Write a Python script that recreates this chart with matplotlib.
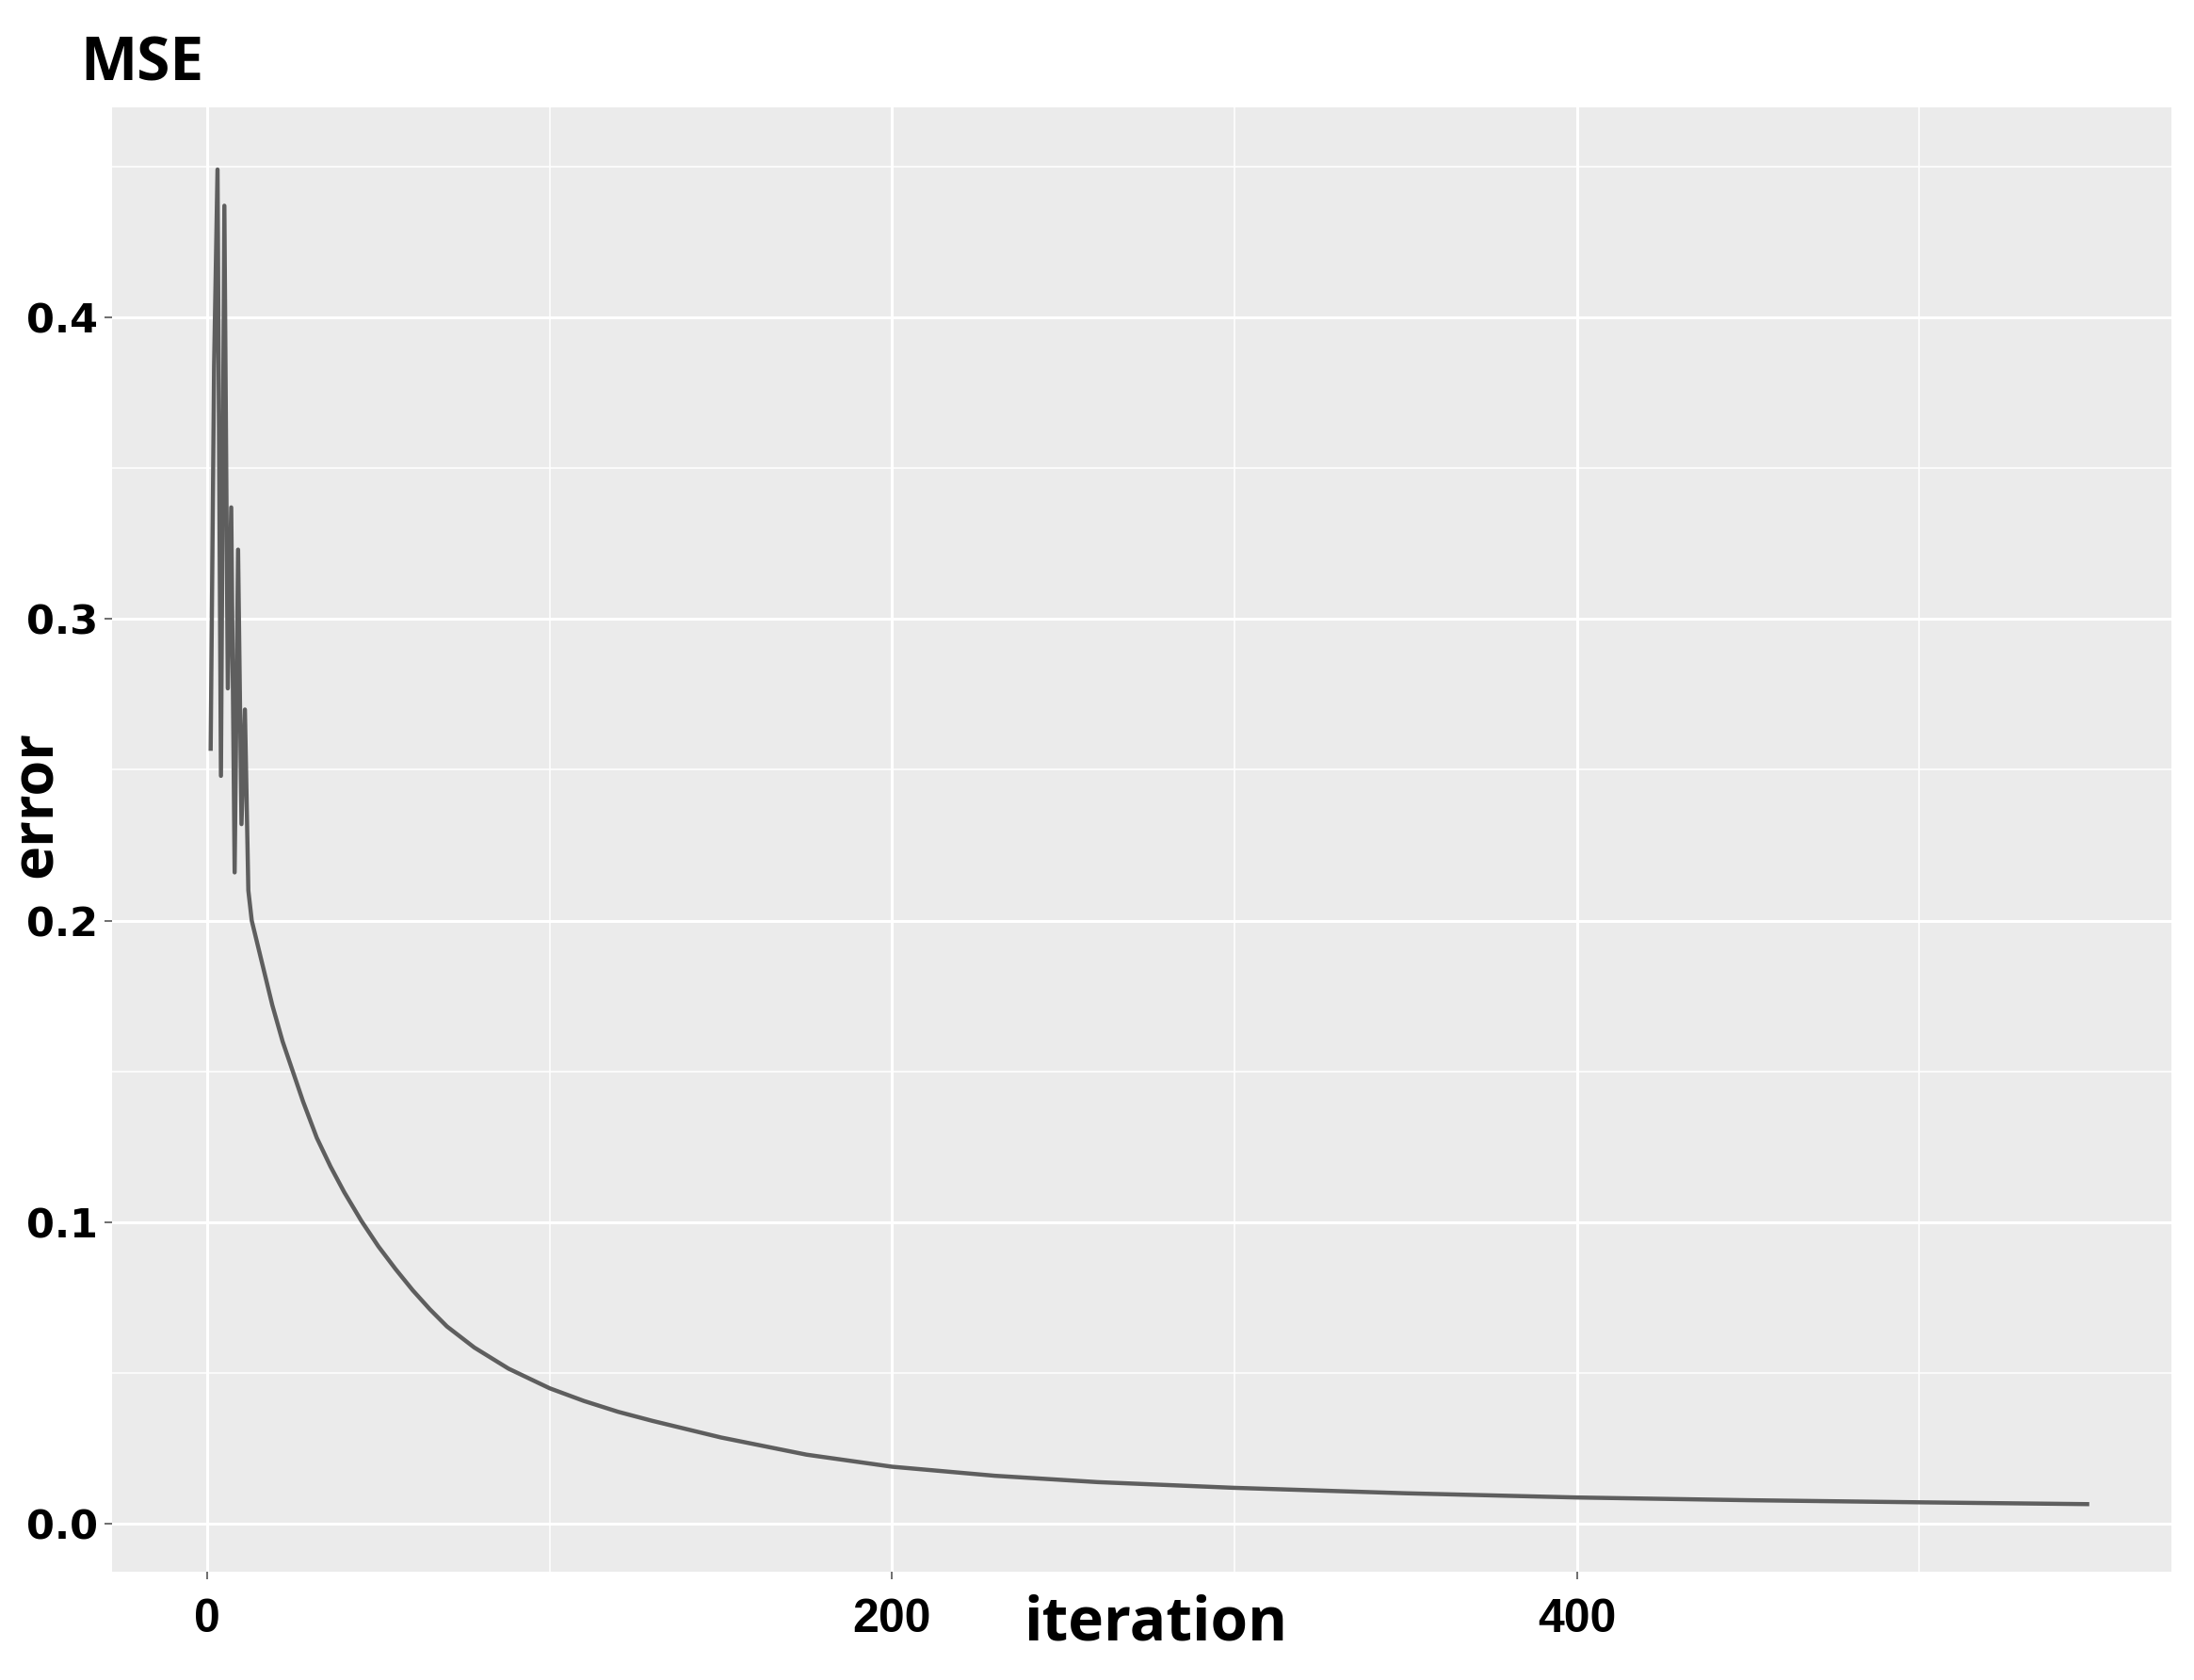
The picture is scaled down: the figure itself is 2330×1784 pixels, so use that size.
import matplotlib
matplotlib.use("Agg")
import matplotlib.pyplot as plt
from matplotlib.ticker import MultipleLocator

# ---- data ----
iteration = [1, 2, 3, 4, 5, 6, 7, 8, 9, 10, 11, 12,
             13, 16, 19, 22, 25, 28, 32, 36, 40, 45, 50, 55, 60, 65, 70, 78, 88,
             100, 110, 120, 130, 150, 175, 200, 230, 260, 300, 350, 400, 450, 500, 549]
error = [0.257, 0.384, 0.449, 0.248, 0.437, 0.277, 0.337, 0.216, 0.323, 0.232, 0.270, 0.210,
         0.200, 0.186, 0.172, 0.160, 0.150, 0.140, 0.128, 0.1185, 0.110, 0.1005, 0.092, 0.0845,
         0.0775, 0.0712, 0.0655, 0.0585, 0.0515, 0.0450, 0.0408, 0.0372, 0.0342, 0.0287, 0.0230,
         0.0190, 0.0160, 0.0139, 0.0120, 0.0102, 0.0088, 0.0079, 0.0072, 0.0066]

x_ticks = [0, 200, 400]
x_tick_labels = ["0", "200", "400"]
y_ticks = [0.0, 0.1, 0.2, 0.3, 0.4]
y_tick_labels = ["0.0", "0.1", "0.2", "0.3", "0.4"]

W, H = 2330, 1784
fig = plt.figure(figsize=(W / 100, H / 100), dpi=100)
fig.patch.set_facecolor("white")

left, right, top, bottom = 119, 2306, 114, 1669
ax = fig.add_axes([left / W, 1 - bottom / H, (right - left) / W, (bottom - top) / H])
ax.set_facecolor("#EBEBEB")
for s in ax.spines.values():
    s.set_visible(False)

ax.set_xlim(-27.8, 573.6)
ax.set_ylim(-0.0158, 0.4696)

ax.set_xticks(x_ticks)
ax.set_yticks(y_ticks)
ax.xaxis.set_minor_locator(MultipleLocator(100))
ax.yaxis.set_minor_locator(MultipleLocator(0.05))
ax.grid(which="major", color="white", linewidth=2.2)
ax.grid(which="minor", color="white", linewidth=1.1)
ax.set_axisbelow(True)
ax.tick_params(which="minor", length=0)
ax.tick_params(which="major", length=6, width=1.2, color="#555555", direction="out")

ax.set_yticklabels(y_tick_labels, fontsize=31, fontweight="bold",
                   family=["DejaVu Sans"], color="black")
ax.tick_params(axis="y", pad=5)
ax.set_xticklabels(x_tick_labels, fontsize=36, fontweight="bold",
                   family=["Liberation Sans", "DejaVu Sans"], color="black")
ax.tick_params(axis="x", pad=14)

ax.plot(iteration, error, color="#5e5e5e", linewidth=3.2, solid_joinstyle="round")

fig.text(85 / W, 1 - 86 / H, "MSE", fontsize=46, fontweight="bold",
         family=["Open Sans", "DejaVu Sans"], ha="left", va="baseline")
fig.text(1227 / W, 1 - 1725 / H, "iteration", fontsize=46, fontweight="bold",
         family=["Open Sans", "DejaVu Sans"], ha="center", va="center")
fig.text(39 / W, 1 - 854 / H, "error", fontsize=44, fontweight="bold",
         family=["Open Sans", "DejaVu Sans"], ha="center", va="center", rotation=90)

fig.savefig("out.png", dpi=100)
